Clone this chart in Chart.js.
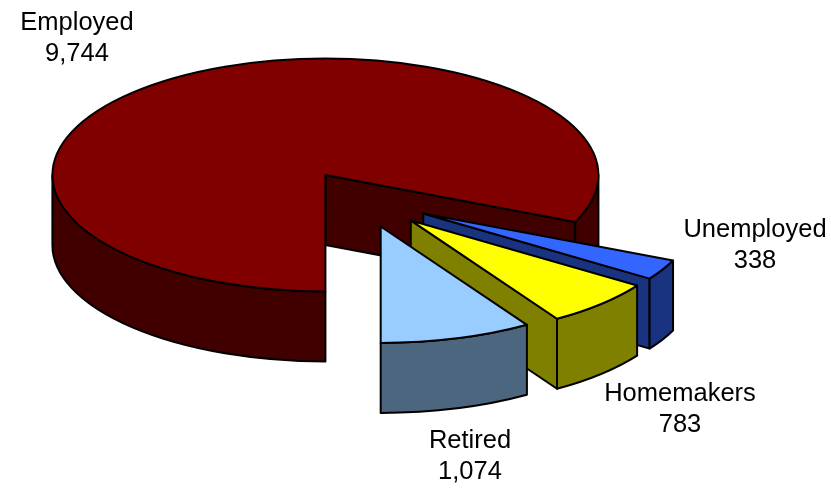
<!DOCTYPE html>
<html>
<head>
<meta charset="utf-8">
<style>
  html, body { margin: 0; padding: 0; background: #fff; }
  #chart-container { width: 831px; height: 489px; }
  canvas { display: block; }
</style>
<script src="https://cdn.jsdelivr.net/npm/chart.js@4"></script>
</head>
<body>
<div id="chart-container"><canvas id="pieChart" width="831" height="489"></canvas></div>
<script>
var categories = ['Employed', 'Unemployed', 'Homemakers', 'Retired'];
var values = [9744, 338, 783, 1074];
var topColors = ['#800000', '#3366FF', '#FFFF00', '#99CCFF'];
var sideColors = ['#400000', '#1A3380', '#808000', '#4D6680'];
var explode = [67, 70, 70, 67];

// centre of each two-line label, in page pixels
var labelX = [77, 755, 680, 470];
var labelY = [38, 245, 409, 456];

var squash = 0.4267;
var depth = 70;

// Chart.js has no 3D pie, so the arcs it lays out get drawn tilted with a wall
var pie3d = {
  id: 'pie3d',
  beforeDatasetsDraw: function(chart) {
    var ctx = chart.ctx;
    var arcs = chart.getDatasetMeta(0).data;
    ctx.save();
    ctx.lineWidth = 2;
    ctx.strokeStyle = '#000';
    ctx.lineJoin = 'round';
    for (var i = 0; i < arcs.length; i++) {
      drawSlice(ctx, arcs[i], sideColors[i], topColors[i], chart.chartArea);
    }
    ctx.restore();
    return false;
  },
  afterDraw: function(chart) {
    var ctx = chart.ctx;
    ctx.save();
    ctx.fillStyle = '#000';
    ctx.font = '25.5px "Liberation Sans"';
    ctx.textAlign = 'center';
    ctx.textBaseline = 'middle';
    for (var i = 0; i < categories.length; i++) {
      ctx.fillText(categories[i], labelX[i], labelY[i] - 15);
      ctx.fillText(values[i].toLocaleString('en-US'), labelX[i], labelY[i] + 16);
    }
    ctx.restore();
  }
};

function fillStroke(ctx, color) {
  ctx.fillStyle = color;
  ctx.fill();
  ctx.stroke();
}

function radialWall(ctx, cx, cy, rx, ry, angle, color) {
  var ex = cx + Math.cos(angle) * rx;
  var ey = cy + Math.sin(angle) * ry;
  ctx.beginPath();
  ctx.moveTo(cx, cy);
  ctx.lineTo(ex, ey);
  ctx.lineTo(ex, ey + depth);
  ctx.lineTo(cx, cy + depth);
  ctx.closePath();
  fillStroke(ctx, color);
}

function outerWall(ctx, cx, cy, rx, ry, from, to, color) {
  ctx.beginPath();
  ctx.ellipse(cx, cy, rx, ry, 0, from, to);
  ctx.ellipse(cx, cy + depth, rx, ry, 0, to, from, true);
  ctx.closePath();
  fillStroke(ctx, color);
}

function drawSlice(ctx, arc, side, top, area) {
  var start = arc.startAngle;
  var end = arc.endAngle;
  var mid = (start + end) / 2;
  var midY = (area.top + area.bottom) / 2;
  var rx = arc.outerRadius;
  var ry = rx * squash;
  var cx = arc.x + Math.cos(mid) * arc.options.offset;
  var cy = midY + Math.sin(mid) * arc.options.offset * squash;

  // the cut faces, only when they turn towards the viewer
  if (Math.cos(start) < -0.001) radialWall(ctx, cx, cy, rx, ry, start, side);
  if (Math.cos(end) > 0.001) radialWall(ctx, cx, cy, rx, ry, end, side);

  // rim, only where it is on the front half of the ellipse
  for (var k = 0; k < 2; k++) {
    var a = Math.max(start, k * 2 * Math.PI);
    var b = Math.min(end, Math.PI + k * 2 * Math.PI);
    if (b > a) outerWall(ctx, cx, cy, rx, ry, a, b, side);
  }

  ctx.beginPath();
  ctx.moveTo(cx, cy);
  ctx.ellipse(cx, cy, rx, ry, 0, start, end);
  ctx.closePath();
  fillStroke(ctx, top);
}

var ctx = document.getElementById('pieChart').getContext('2d');
var chart = new Chart(ctx, {
  type: 'pie',
  data: {
    labels: categories,
    datasets: [{
      data: values,
      backgroundColor: topColors,
      borderWidth: 0,
      offset: explode
    }]
  },
  options: {
    responsive: false,
    animation: false,
    rotation: 180,
    radius: 273,
    layout: { padding: { left: 0, top: 0, right: 107, bottom: 91 } },
    plugins: { legend: { display: false }, tooltip: { enabled: false } }
  },
  plugins: [pie3d]
});
</script>
</body>
</html>
